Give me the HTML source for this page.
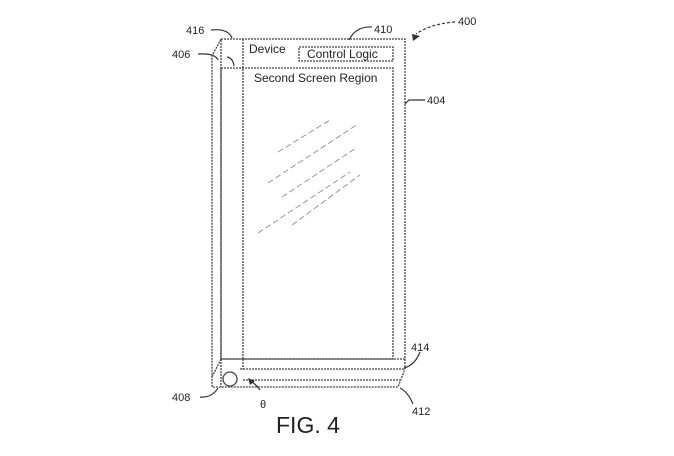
<!DOCTYPE html>
<html><head><style>body{margin:0;background:#fff}svg{display:block}text{font-family:"Liberation Sans",sans-serif;fill:#222}</style></head><body>
<svg width="674" height="456" viewBox="0 0 674 456" xmlns="http://www.w3.org/2000/svg">
<g fill="none" stroke="#444" stroke-width="1.3" stroke-dasharray="2 1">
<path d="M221 39 L212 56 L212 387 L398 387 L405 369"/>
<rect x="221" y="39" width="184" height="320"/>
<path d="M405 359 L405 369"/>
<line x1="243" y1="39" x2="243" y2="359"/>
<rect x="221" y="68" width="172" height="291"/>
<rect x="299" y="47" width="94" height="14"/>
<path d="M221 359 L212 377"/>
<line x1="240" y1="369" x2="405" y2="369"/>
<line x1="243" y1="380" x2="400" y2="380"/>
<path d="M221 359 L221 387"/>
<path d="M243 359 L243 369"/>
</g>
<circle cx="230" cy="379" r="7" fill="none" stroke="#444" stroke-width="1.3"/>
<g stroke="#999" stroke-width="1" stroke-dasharray="6 3">
<line x1="278" y1="152" x2="330" y2="120"/>
<line x1="268" y1="183" x2="358" y2="124"/>
<line x1="282" y1="197" x2="356" y2="148"/>
<line x1="292" y1="225" x2="360" y2="175"/>
<line x1="258" y1="233" x2="350" y2="172"/>
</g>
<g fill="none" stroke="#333" stroke-width="1.2">
<path d="M211 30 Q228 28 232 38"/>
<path d="M198 54 Q215 53 218 60"/>
<path d="M227 57 Q233 58 234 66"/>
<path d="M372 27 Q356 26 349 40"/>
<path d="M455 22 Q430 24 416 34" stroke-dasharray="3 2"/>
<path d="M425 100 L409 100 L405 104"/>
<path d="M420 352 Q415 365 404 368"/>
<path d="M200 397 Q212 398 218 388"/>
<path d="M260 390 Q256 384 250 381"/>
<path d="M413 404 Q408 392 400 388"/>
</g>
<path d="M412 34 L420 36 L413 41 Z" fill="#333"/>
<path d="M248 378 L255 381 L250 385 Z" fill="#333"/>
<g font-size="11">
<text x="186" y="34">416</text>
<text x="172" y="58">406</text>
<text x="374" y="33">410</text>
<text x="458" y="25">400</text>
<text x="427" y="104">404</text>
<text x="411" y="351">414</text>
<text x="412" y="415">412</text>
<text x="172" y="401">408</text>
<text x="260" y="408">θ</text>
</g>
<g font-size="12">
<text x="249" y="53">Device</text>
<text x="307" y="58">Control Logic</text>
<text x="254" y="82">Second Screen Region</text>
</g>
<text x="276" y="433" font-size="23">FIG. 4</text>
</svg>
</body></html>
